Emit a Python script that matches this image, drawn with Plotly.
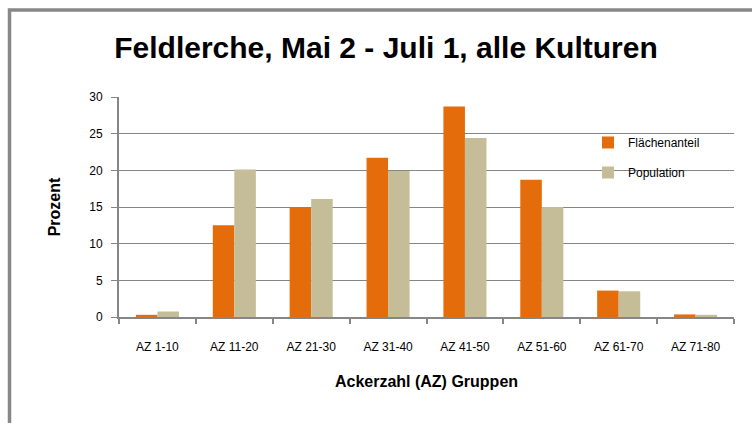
import plotly.graph_objects as go

# Ackerzahl groups and the share of each group (percent)
categories = ["AZ 1-10", "AZ 11-20", "AZ 21-30", "AZ 31-40",
              "AZ 41-50", "AZ 51-60", "AZ 61-70", "AZ 71-80"]
flaechenanteil = [0.3, 12.5, 15.0, 21.7, 28.7, 18.7, 3.6, 0.35]
population = [0.75, 20.1, 16.1, 19.9, 24.4, 15.0, 3.5, 0.3]

y_ticks = [0, 5, 10, 15, 20, 25, 30]

W, H = 752, 423
L, R, T, B = 119, 18, 97, 106
plot_w = W - L - R
plot_h = H - T - B


def px_x(px):
    return (px - L) / plot_w


def px_y(py):
    return (H - B - py) / plot_h


grid = "#868686"
font_family = "Liberation Sans, Arial, sans-serif"

fig = go.Figure()
fig.add_trace(go.Bar(x=categories, y=flaechenanteil, name="Flächenanteil",
                     marker=dict(color="#E46C0A", line=dict(width=0)),
                     legendgroup="a"))
fig.add_trace(go.Bar(x=categories, y=population, name="Population",
                     marker=dict(color="#C4BD97", line=dict(width=0)),
                     legendgroup="b"))

fig.update_layout(
    width=W, height=H,
    margin=dict(l=L, r=R, t=T, b=B),
    paper_bgcolor="white", plot_bgcolor="white",
    barmode="group", bargap=0.44, bargroupgap=0,
    font=dict(family=font_family, color="#000000", size=12),
    title=dict(text="<b>Feldlerche, Mai 2 - Juli 1, alle Kulturen</b>",
               x=386 / W, xanchor="center", xref="container",
               y=1 - 47 / H, yanchor="middle",
               font=dict(size=30, family=font_family, color="#000000")),
    legend=dict(x=px_x(588), y=px_y(128), xanchor="left", yanchor="top",
                bgcolor="rgba(0,0,0,0)", tracegroupgap=11, itemwidth=30,
                font=dict(size=12, family=font_family)),
    showlegend=True,
)

fig.update_xaxes(
    showline=True, linecolor=grid, linewidth=2,
    ticks="outside", tickson="boundaries", ticklen=5, tickcolor=grid, tickwidth=1.5,
    ticklabelstandoff=18,
    tickfont=dict(size=12, family=font_family),
    showgrid=False,
    title=dict(text="<b>Ackerzahl (AZ) Gruppen</b>", standoff=22,
               font=dict(size=16, family=font_family)),
)
fig.update_yaxes(
    range=[0, 30], tickvals=y_ticks,
    showline=True, linecolor=grid, linewidth=2,
    ticks="outside", ticklen=6, tickcolor=grid, tickwidth=1,
    ticklabelstandoff=6,
    showgrid=True, gridcolor=grid, gridwidth=1.2,
    zeroline=False,
    tickfont=dict(size=12, family=font_family),
    title=dict(text="<b>Prozent</b>", standoff=25,
               font=dict(size=16, family=font_family)),
)

# Grey chart frame (left and top edges visible)
fig.add_shape(type="rect", xref="paper", yref="paper", layer="below",
              x0=px_x(9.5), x1=px_x(800), y0=px_y(470), y1=px_y(10),
              line=dict(color="#888888", width=3.5), fillcolor="rgba(0,0,0,0)")

fig.write_html("out.html")
